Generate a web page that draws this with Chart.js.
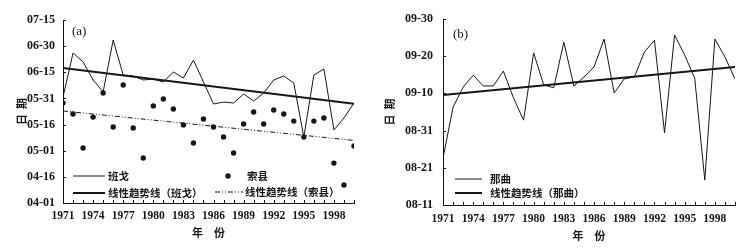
<!DOCTYPE html>
<html>
<head>
<meta charset="utf-8">
<script src="https://cdn.jsdelivr.net/npm/chart.js@4"></script>
<style>
  html, body { margin: 0; padding: 0; background: #fff; }
  .panel { position: absolute; top: 0; height: 248px; }
  #panelA { left: 0; width: 375px; }
  #panelB { left: 375px; width: 374px; }
</style>
</head>
<body>
<div class="panel" id="panelA"><canvas id="chartA" width="375" height="248"></canvas></div>
<div class="panel" id="panelB"><canvas id="chartB" width="374" height="248"></canvas></div>
<script>
// years on the x axis
const years = [
  1971, 1972, 1973, 1974, 1975, 1976, 1977, 1978, 1979, 1980,
  1981, 1982, 1983, 1984, 1985, 1986, 1987, 1988, 1989, 1990,
  1991, 1992, 1993, 1994, 1995, 1996, 1997, 1998, 1999, 2000,
];
const yearTicks = [1971, 1974, 1977, 1980, 1983, 1986, 1989, 1992, 1995, 1998];

// panel (a): days after 04-01
const dateTicksA = ["04-01", "04-16", "05-01", "05-16", "05-31", "06-15", "06-30", "07-15"];
const bange = [
  60.8, 86.1, 81.0, 70.6, 63.7, 93.5, 73.4, 72.9, 70.6, 71.1,
  69.4, 75.2, 71.7, 82.0, 69.4, 56.8, 57.9, 57.4, 62.5, 58.5,
  63.1, 70.6, 72.9, 68.8, 37.9, 73.4, 76.9, 41.9, 48.8, 57.4,
];
const suoxian = [
  57.4, 51.1, 31.6, 49.3, 63.1, 43.6, 67.7, 43.0, 25.8, 55.7,
  59.7, 53.9, 44.8, 34.4, 48.2, 43.6, 37.9, 28.7, 45.3, 52.2,
  45.3, 53.4, 51.1, 47.0, 37.9, 47.0, 48.8, 22.9, 10.3, 32.7,
];
const bangeTrend = [77.5, 57.0];   // at 1971 and 2000
const suoxianTrend = [52.8, 35.9];

// panel (b): days after 08-11
const dateTicksB = ["08-11", "08-21", "08-31", "09-10", "09-20", "09-30"];
const naqu = [
  12.6, 26.3, 31.7, 34.9, 32.0, 32.0, 36.0, 28.8, 22.8, 40.9,
  32.3, 31.5, 43.8, 32.0, 34.4, 37.1, 44.6, 30.1, 33.9, 34.4,
  41.1, 44.3, 19.4, 45.7, 40.3, 34.1, 6.7, 44.6, 39.8, 33.9,
];
const naquTrend = [29.6, 37.1];

const ink = "#161616";
const serif = "'Liberation Serif', 'DejaVu Serif', serif";
const cjk = "'Noto Sans CJK SC', sans-serif";

function points(values) {
  return values.map((v, i) => ({ x: years[i], y: v }));
}
function trendPoints(ends) {
  return [{ x: years[0], y: ends[0] }, { x: years[years.length - 1], y: ends[1] }];
}

// small inward tick marks on both axes
const innerTicks = {
  id: "innerTicks",
  afterDraw(chart) {
    const { ctx, scales: { x, y } } = chart;
    ctx.save();
    ctx.strokeStyle = ink;
    ctx.lineWidth = 1;
    ctx.beginPath();
    for (let yr = x.min; yr <= x.max; yr++) {
      const px = Math.round(x.getPixelForValue(yr)) + 0.5;
      ctx.moveTo(px, x.top);
      ctx.lineTo(px, x.top - 3);
    }
    y.ticks.forEach((t) => {
      const py = Math.round(y.getPixelForValue(t.value)) + 0.5;
      ctx.moveTo(y.right, py);
      ctx.lineTo(y.right + 3, py);
    });
    ctx.stroke();
    ctx.restore();
  },
};

// legend drawn inside the plot, plus the panel letter
const insideLegend = {
  id: "insideLegend",
  afterDraw(chart, args, opts) {
    const ctx = chart.ctx;
    ctx.save();
    ctx.font = "bold 10.5px " + cjk;
    ctx.textBaseline = "middle";
    ctx.fillStyle = ink;
    opts.items.forEach((item) => {
      const ds = chart.data.datasets[item.dataset];
      if (ds.showLine === false) {
        ctx.beginPath();
        ctx.arc(item.x, item.y, ds.pointRadius, 0, Math.PI * 2);
        ctx.fill();
      } else {
        ctx.beginPath();
        ctx.setLineDash(ds.borderDash || []);
        ctx.lineWidth = ds.borderWidth;
        ctx.strokeStyle = ds.borderColor;
        ctx.moveTo(item.x, item.y);
        ctx.lineTo(item.x + item.w, item.y);
        ctx.stroke();
        ctx.setLineDash([]);
      }
      ctx.fillText(ds.label, item.textX, item.y);
    });
    ctx.font = "13px " + serif;
    ctx.fillText(opts.panel.text, opts.panel.x, opts.panel.y);
    ctx.restore();
  },
};

function makeOptions(cfg) {
  return {
    responsive: false,
    animation: false,
    layout: { padding: cfg.padding },
    plugins: {
      legend: { display: false },
      tooltip: { enabled: false },
      insideLegend: { items: cfg.legendItems, panel: cfg.panel },
    },
    scales: {
      x: {
        type: "linear",
        min: 1971,
        max: 2000,
        afterBuildTicks: (scale) => {
          scale.ticks = yearTicks.map((v) => ({ value: v }));
        },
        afterFit: (scale) => {
          scale.height = cfg.xHeight;
        },
        grid: { display: false, drawTicks: false },
        border: { display: true, color: ink, width: 1 },
        ticks: {
          padding: cfg.xTickPad,
          maxRotation: 0,
          color: ink,
          font: { family: serif, size: 11.5, weight: "bold" },
          callback: (v) => String(v),
        },
        title: {
          display: true,
          text: "年　份",
          color: ink,
          padding: { top: 0, bottom: 4 },
          font: { family: cjk, size: 11, weight: "bold" },
        },
      },
      y: {
        min: 0,
        max: cfg.yMax,
        afterFit: (scale) => {
          scale.width = cfg.yWidth;
        },
        grid: { display: false, drawTicks: false },
        border: { display: true, color: ink, width: 1 },
        ticks: {
          stepSize: cfg.yStep,
          padding: cfg.yTickPad,
          color: ink,
          font: { family: serif, size: 12, weight: "bold" },
          callback: (v) => cfg.yLabels[Math.round(v / cfg.yStep)],
        },
        title: {
          display: true,
          text: "日  期",
          color: ink,
          padding: { top: cfg.yTitlePad, bottom: 0 },
          font: { family: cjk, size: 11, weight: "bold" },
        },
      },
    },
  };
}

new Chart(document.getElementById("chartA"), {
  type: "line",
  data: {
    datasets: [
      {
        label: "班戈",
        data: points(bange),
        borderColor: ink,
        borderWidth: 1,
        pointRadius: 0,
        tension: 0,
      },
      {
        label: "线性趋势线（班戈）",
        data: trendPoints(bangeTrend),
        borderColor: ink,
        borderWidth: 2,
        pointRadius: 0,
      },
      {
        label: "索县",
        data: points(suoxian),
        showLine: false,
        pointRadius: 2.7,
        pointBackgroundColor: ink,
        pointBorderWidth: 0,
        borderColor: ink,
      },
      {
        label: "线性趋势线（索县）",
        data: trendPoints(suoxianTrend),
        borderColor: ink,
        borderWidth: 1,
        borderDash: [5, 2, 1, 2, 1, 2],
        pointRadius: 0,
      },
    ],
  },
  options: makeOptions({
    padding: { left: 10, right: 21, top: 20, bottom: 5 },
    xHeight: 40,
    xTickPad: 6,
    yWidth: 53,
    yTickPad: 8,
    yTitlePad: 5,
    yMax: 105,
    yStep: 15,
    yLabels: dateTicksA,
    panel: { text: "(a)", x: 72, y: 32 },
    legendItems: [
      { dataset: 0, x: 73, w: 32, y: 176, textX: 108 },
      { dataset: 1, x: 73, w: 32, y: 193, textX: 108 },
      { dataset: 2, x: 228, w: 0, y: 176, textX: 247 },
      { dataset: 3, x: 215, w: 28, y: 192, textX: 245 },
    ],
  }),
  plugins: [innerTicks, insideLegend],
});

new Chart(document.getElementById("chartB"), {
  type: "line",
  data: {
    datasets: [
      {
        label: "那曲",
        data: points(naqu),
        borderColor: ink,
        borderWidth: 1,
        pointRadius: 0,
        tension: 0,
      },
      {
        label: "线性趋势线（那曲）",
        data: trendPoints(naquTrend),
        borderColor: ink,
        borderWidth: 2,
        pointRadius: 0,
      },
    ],
  },
  options: makeOptions({
    padding: { left: 2, right: 14, top: 19, bottom: 2 },
    xHeight: 41,
    xTickPad: 7,
    yWidth: 66,
    yTickPad: 10,
    yTitlePad: 6,
    yMax: 50,
    yStep: 10,
    yLabels: dateTicksB,
    panel: { text: "(b)", x: 78, y: 35 },
    legendItems: [
      { dataset: 0, x: 80, w: 27, y: 179, textX: 115 },
      { dataset: 1, x: 80, w: 27, y: 193, textX: 115 },
    ],
  }),
  plugins: [innerTicks, insideLegend],
});
</script>
</body>
</html>
